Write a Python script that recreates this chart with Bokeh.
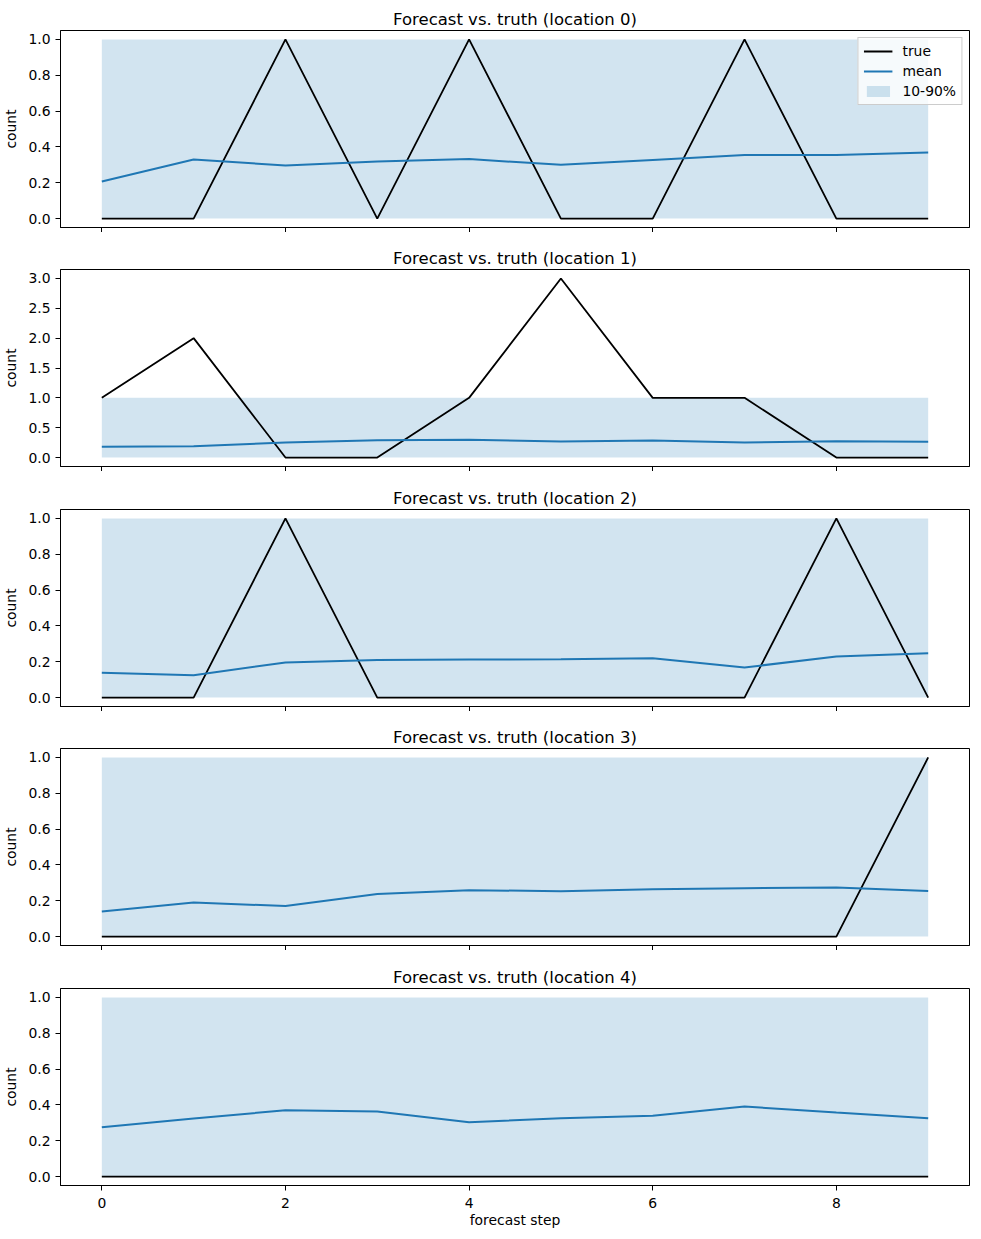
from bokeh.plotting import figure
from bokeh.layouts import column
from bokeh.models import FixedTicker, PrintfTickFormatter, Range1d, Legend, LegendItem
from bokeh.embed import file_html
from bokeh.resources import INLINE

steps = [0, 1, 2, 3, 4, 5, 6, 7, 8, 9]
tick_x = [0, 2, 4, 6, 8]

true_0 = [0, 0, 1, 0, 1, 0, 0, 1, 0, 0]
true_1 = [1, 2, 0, 0, 1, 3, 1, 1, 0, 0]
true_2 = [0, 0, 1, 0, 0, 0, 0, 0, 1, 0]
true_3 = [0, 0, 0, 0, 0, 0, 0, 0, 0, 1]
true_4 = [0, 0, 0, 0, 0, 0, 0, 0, 0, 0]

mean_0 = [0.207, 0.330, 0.296, 0.318, 0.332, 0.300, 0.327, 0.355, 0.355, 0.369]
mean_1 = [0.180, 0.190, 0.250, 0.290, 0.300, 0.270, 0.285, 0.250, 0.275, 0.265]
mean_2 = [0.138, 0.125, 0.196, 0.210, 0.212, 0.214, 0.220, 0.168, 0.229, 0.247]
mean_3 = [0.140, 0.190, 0.170, 0.238, 0.259, 0.253, 0.264, 0.270, 0.274, 0.255]
mean_4 = [0.275, 0.324, 0.370, 0.363, 0.303, 0.326, 0.340, 0.391, 0.357, 0.326]

lower_q = [0, 0, 0, 0, 0, 0, 0, 0, 0, 0]
upper_q = [1, 1, 1, 1, 1, 1, 1, 1, 1, 1]

trues = [true_0, true_1, true_2, true_3, true_4]
means = [mean_0, mean_1, mean_2, mean_3, mean_4]
yticks = [
    [0.0, 0.2, 0.4, 0.6, 0.8, 1.0],
    [0.0, 0.5, 1.0, 1.5, 2.0, 2.5, 3.0],
    [0.0, 0.2, 0.4, 0.6, 0.8, 1.0],
    [0.0, 0.2, 0.4, 0.6, 0.8, 1.0],
    [0.0, 0.2, 0.4, 0.6, 0.8, 1.0],
]

FONT = "DejaVu Sans"
BLUE = "#1f77b4"
margins = [(5, 0, 12, 0), (0, 0, 13, 0), (0, 0, 12, 0), (0, 0, 13, 0), (0, 0, 0, 0)]

figs = []
for i in range(5):
    last = (i == 4)
    ymax = max(max(trues[i]), max(upper_q))
    ymin = min(min(trues[i]), min(lower_q))
    pad = (ymax - ymin) * 0.05
    p = figure(
        frame_width=909, frame_height=197,
        output_backend="svg", toolbar_location=None,
        x_range=Range1d(-0.45, 9.45),
        y_range=Range1d(ymin - pad, ymax + pad),
        title="Forecast vs. truth (location %d)" % i,
    )
    p.margin = margins[i]
    p.title.align = "center"
    p.title.text_font = FONT
    p.title.text_font_size = "16.5px"
    p.title.text_font_style = "normal"
    p.title.text_color = "black"
    p.title.standoff = 4
    p.title.offset = 0

    p.background_fill_color = "white"
    p.border_fill_color = "white"
    p.outline_line_color = "black"
    p.outline_line_width = 1
    p.outline_line_alpha = 1
    p.xgrid.visible = False
    p.ygrid.visible = False

    band = p.varea(x=steps, y1=lower_q, y2=upper_q, fill_color=BLUE, fill_alpha=0.2)
    tl = p.line(steps, trues[i], line_color="black", line_width=1.8)
    ml = p.line(steps, means[i], line_color=BLUE, line_width=2)

    for ax in (p.xaxis[0], p.yaxis[0]):
        ax.axis_line_color = "black"
        ax.major_tick_line_color = "black"
        ax.major_tick_out = 5
        ax.major_tick_in = 0
        ax.minor_tick_line_color = None
        ax.major_label_text_font = FONT
        ax.major_label_text_font_size = "13.9px"
        ax.major_label_text_color = "black"
        ax.axis_label_text_font = FONT
        ax.axis_label_text_font_size = "13.9px"
        ax.axis_label_text_font_style = "normal"
        ax.axis_label_text_color = "black"

    p.xaxis.ticker = FixedTicker(ticks=tick_x)
    p.yaxis.ticker = FixedTicker(ticks=yticks[i])
    p.yaxis.formatter = PrintfTickFormatter(format="%.1f")
    p.yaxis.axis_label = "count"
    p.yaxis.major_label_standoff = 5
    p.yaxis.axis_label_standoff = 6
    if last:
        p.xaxis.axis_label = "forecast step"
        p.xaxis.major_label_standoff = 7
        p.xaxis.axis_label_standoff = 1
    else:
        p.xaxis.major_label_text_font_size = "1px"
        p.xaxis.major_label_text_alpha = 0
        p.xaxis.major_label_standoff = 0
        p.xaxis.axis_label_standoff = 0

    if i == 0:
        legend = Legend(
            items=[
                LegendItem(label="true", renderers=[tl]),
                LegendItem(label="mean", renderers=[ml]),
                LegendItem(label="10-90%", renderers=[band]),
            ],
            location="top_right",
            label_text_font=FONT,
            label_text_font_size="13.9px",
            label_text_color="black",
            border_line_color="#cccccc",
            border_line_alpha=1,
            background_fill_alpha=0.8,
            glyph_width=29,
            glyph_height=14,
            spacing=4,
            padding=5,
            margin=7,
            label_standoff=10,
            label_height=14,
        )
        p.add_layout(legend)
    figs.append(p)

layout = column(*figs, spacing=0)
open("out.html", "w").write(file_html(layout, INLINE))
